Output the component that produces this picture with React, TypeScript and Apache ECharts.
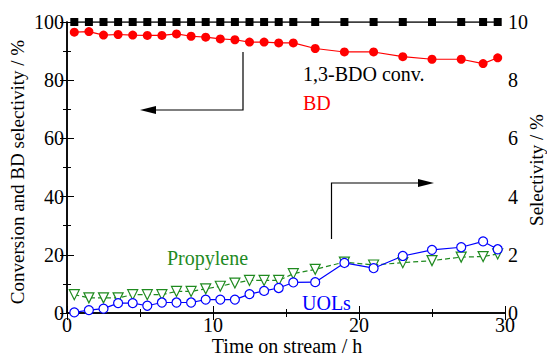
import React, { useEffect, useRef } from "react";
import * as echarts from "echarts";

const times = [0.5, 1.5, 2.5, 3.5, 4.5, 5.5, 6.5, 7.5, 8.5, 9.5, 10.5, 11.5, 12.5, 13.5, 14.5, 15.5, 17, 19, 21, 23, 25, 27, 28.5, 29.5];
const conversion = [100, 100, 100, 100, 100, 100, 100, 100, 100, 100, 100, 100, 100, 100, 100, 100, 100, 100, 100, 100, 100, 100, 100, 100];
const bdSelectivity = [96.5, 96.7, 95.5, 95.7, 95.5, 95.4, 95.4, 95.9, 95.1, 94.8, 94.2, 93.9, 93.1, 93.1, 92.8, 92.8, 90.9, 89.7, 89.7, 88.1, 87.2, 87.2, 85.7, 87.7];
const uolsSelectivity = [0.02, 0.1, 0.15, 0.34, 0.34, 0.25, 0.36, 0.36, 0.36, 0.46, 0.46, 0.46, 0.65, 0.76, 0.86, 1.05, 1.06, 1.72, 1.54, 1.96, 2.17, 2.26, 2.46, 2.19];
const propyleneSelectivity = [0.63, 0.52, 0.52, 0.52, 0.63, 0.63, 0.63, 0.74, 0.74, 0.83, 0.92, 1.03, 1.12, 1.12, 1.12, 1.35, 1.5, 1.75, 1.65, 1.73, 1.8, 1.92, 1.94, 2.03];

const xTitle = "Time on stream / h";
const leftTitle = "Conversion and BD selectivity / %";
const rightTitle = "Selectivity / %";

const FONT = "'Liberation Serif', 'Times New Roman', serif";
const pairs = (ys: number[]) => times.map((t, i) => [t, ys[i]]);

export default function App() {
  const ref = useRef<HTMLDivElement>(null);
  useEffect(() => {
    if (!ref.current) return;
    const chart = echarts.init(ref.current, null, { renderer: "svg" });
    const axisLine = { show: true, lineStyle: { color: "#000", width: 1.5 } };
    const tick = { show: true, inside: true, length: 7, lineStyle: { color: "#000", width: 1 } };
    const minor = { show: true, splitNumber: 2, length: 4, lineStyle: { color: "#000", width: 1 } };
    const lbl = { color: "#000", fontFamily: FONT, fontSize: 20 };
    const txt = (text: string, left: number, top: number, fill: string) => ({
      type: "text", left, top, style: { text, fill, fontFamily: FONT, fontSize: 20 },
    });
    const title = (text: string, x: number, y: number, rotation: number, size: number) => ({
      type: "text", x, y, rotation,
      style: { text, fill: "#000", fontFamily: FONT, fontSize: size, textAlign: "center", textVerticalAlign: "middle" },
    });
    chart.setOption({
      animation: false,
      textStyle: { fontFamily: FONT },
      grid: { left: 67, right: 42, top: 22, bottom: 43, containLabel: false, outerBoundsMode: "none" },
      xAxis: [
        {
          type: "value", min: 0, max: 30, interval: 10, position: "bottom",
          axisLine, axisTick: tick, minorTick: minor, splitLine: { show: false },
          axisLabel: { ...lbl, margin: 2 },
        },
        {
          type: "value", min: 0, max: 30, interval: 10, position: "top",
          axisLine, axisTick: tick, minorTick: minor, splitLine: { show: false },
          axisLabel: { show: false },
        },
      ],
      yAxis: [
        {
          type: "value", min: 0, max: 100, interval: 20, position: "left",
          axisLine, axisTick: tick, minorTick: minor, splitLine: { show: false },
          axisLabel: { ...lbl, margin: 3 },
        },
        {
          type: "value", min: 0, max: 10, interval: 2, position: "right",
          axisLine, axisTick: tick, minorTick: minor, splitLine: { show: false },
          axisLabel: { ...lbl, margin: 3 },
        },
      ],
      series: [
        {
          name: "1,3-BDO conv.", type: "line", yAxisIndex: 0, data: pairs(conversion),
          symbol: "rect", symbolSize: 8, lineStyle: { color: "#000", width: 1.5 },
          itemStyle: { color: "#000" },
        },
        {
          name: "BD", type: "line", yAxisIndex: 0, data: pairs(bdSelectivity),
          symbol: "circle", symbolSize: 9, lineStyle: { color: "#ff0000", width: 1.2 },
          itemStyle: { color: "#ff0000" },
        },
        {
          name: "Propylene", type: "line", yAxisIndex: 1, data: pairs(propyleneSelectivity),
          symbol: "triangle", symbolRotate: 180, symbolSize: 10, showAllSymbol: true,
          lineStyle: { color: "#1f8a1f", width: 1.2, type: [5, 3] },
          itemStyle: { color: "#fff", borderColor: "#1f8a1f", borderWidth: 1.2 },
        },
        {
          name: "UOLs", type: "line", yAxisIndex: 1, data: pairs(uolsSelectivity),
          symbol: "circle", symbolSize: 9, showAllSymbol: true,
          lineStyle: { color: "#0000ff", width: 1.2 },
          itemStyle: { color: "#fff", borderColor: "#0000ff", borderWidth: 1.2 },
        },
      ],
      graphic: [
        title(xTitle, 287, 346, 0, 20),
        title(leftTitle, 17, 172, Math.PI / 2, 19),
        title(rightTitle, 536, 170, Math.PI / 2, 19),
        txt("1,3-BDO conv.", 303, 64, "#000"),
        txt("BD", 303, 93, "#ff0000"),
        txt("Propylene", 167, 248, "#1f8a1f"),
        txt("UOLs", 302, 293, "#0000ff"),
        { type: "polyline", shape: { points: [[243, 52], [243, 110], [155, 110]] }, style: { stroke: "#000", lineWidth: 1.2, fill: "none" } },
        { type: "polygon", shape: { points: [[140, 110], [156, 106], [156, 114]] }, style: { fill: "#000" } },
        { type: "polyline", shape: { points: [[331.5, 239], [331.5, 183], [420, 183]] }, style: { stroke: "#000", lineWidth: 1.2, fill: "none" } },
        { type: "polygon", shape: { points: [[434, 183], [418, 179], [418, 187]] }, style: { fill: "#000" } },
      ],
    });
    return () => chart.dispose();
  }, []);
  return <div ref={ref} style={{ width: 547, height: 356, position: "absolute", left: 0, top: 0 }} />;
}
